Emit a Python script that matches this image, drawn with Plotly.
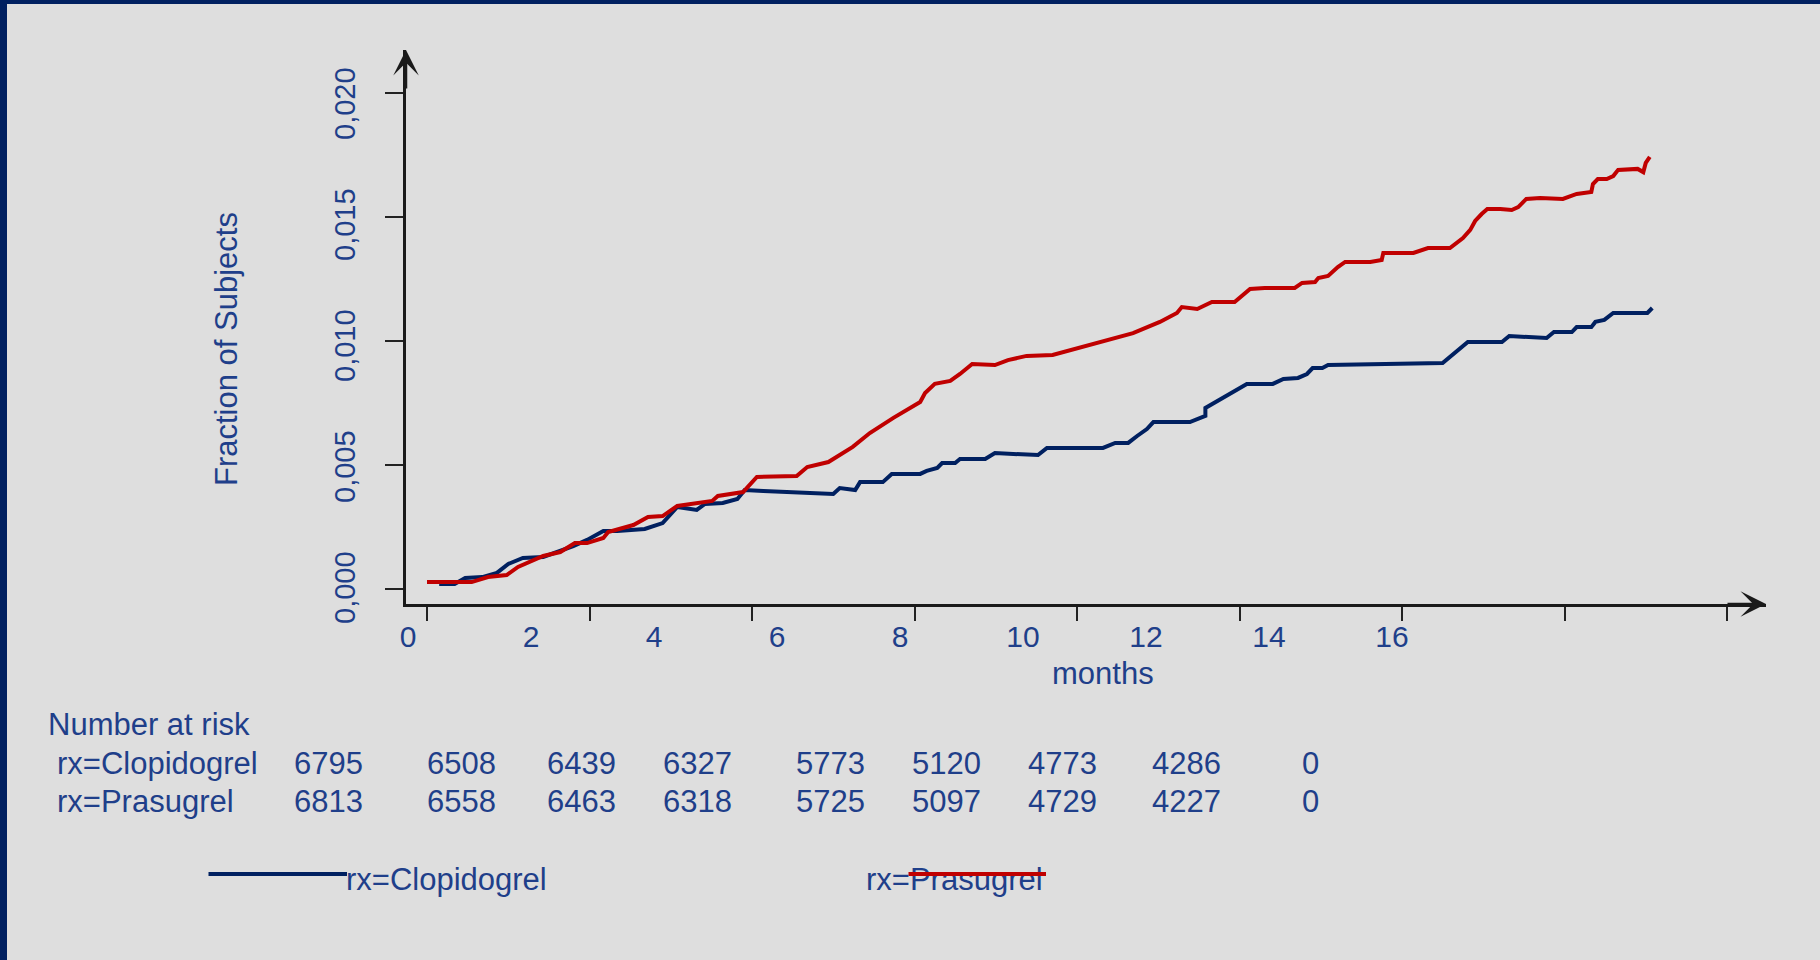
import plotly.graph_objects as go

# cumulative fraction of subjects with an event
months_prasugrel = [0.00, 0.55, 0.75, 0.98, 1.12, 1.27, 1.43, 1.64, 1.82, 1.97,
                    2.17, 2.23, 2.54, 2.72, 2.90, 3.08, 3.27, 3.51, 3.58, 3.89,
                    4.06, 4.55, 4.68, 4.94, 5.24, 5.45, 5.74, 6.07, 6.13, 6.25,
                    6.44, 6.56, 6.71, 6.99, 7.15, 7.38, 7.70, 8.69, 9.02, 9.23,
                    9.29, 9.48, 9.66, 9.94, 10.13, 10.31, 10.68, 10.77, 10.93, 10.97,
                    11.09, 11.21, 11.30, 11.61, 11.75, 11.77, 12.14, 12.32, 12.59, 12.75,
                    12.84, 12.90, 12.98, 13.05, 13.21, 13.35, 13.43, 13.53, 13.70, 13.98,
                    14.15, 14.33, 14.35, 14.41, 14.52, 14.60, 14.66, 14.90, 14.97, 15.00,
                    15.05]
frac_prasugrel = [0.00028, 0.00028, 0.00048, 0.00056, 0.00089, 0.00109, 0.00133, 0.00149, 0.00185, 0.00185,
                  0.00206, 0.00230, 0.00258, 0.00290, 0.00294, 0.00335, 0.00343, 0.00355, 0.00375, 0.00391,
                  0.00452, 0.00456, 0.00492, 0.00512, 0.00573, 0.00629, 0.00690, 0.00754, 0.00790, 0.00827,
                  0.00839, 0.00867, 0.00907, 0.00903, 0.00923, 0.00940, 0.00944, 0.01032, 0.01077, 0.01113,
                  0.01137, 0.01129, 0.01157, 0.01157, 0.01210, 0.01214, 0.01214, 0.01234, 0.01238, 0.01254,
                  0.01262, 0.01298, 0.01319, 0.01319, 0.01327, 0.01355, 0.01355, 0.01375, 0.01375, 0.01415,
                  0.01448, 0.01484, 0.01512, 0.01532, 0.01532, 0.01528, 0.01540, 0.01573, 0.01577, 0.01573,
                  0.01593, 0.01601, 0.01633, 0.01653, 0.01653, 0.01665, 0.01690, 0.01694, 0.01681, 0.01718,
                  0.01742]

months_clopidogrel = [0.15, 0.34, 0.47, 0.68, 0.86, 1.00, 1.18, 1.43, 1.80, 1.97,
                      2.17, 2.34, 2.68, 2.90, 3.08, 3.32, 3.42, 3.64, 3.82, 3.91,
                      4.14, 5.00, 5.08, 5.27, 5.33, 5.61, 5.72, 6.07, 6.15, 6.28,
                      6.34, 6.50, 6.56, 6.87, 6.99, 7.52, 7.63, 8.32, 8.47, 8.63,
                      8.74, 8.86, 8.94, 9.39, 9.58, 9.58, 10.09, 10.41, 10.54, 10.72,
                      10.83, 10.90, 11.02, 11.09, 12.50, 12.81, 13.23, 13.32, 13.78, 13.87,
                      14.09, 14.15, 14.33, 14.38, 14.49, 14.60, 15.02, 15.08]
frac_clopidogrel = [0.00020, 0.00020, 0.00044, 0.00048, 0.00065, 0.00101, 0.00125, 0.00129, 0.00173, 0.00198,
                    0.00234, 0.00234, 0.00242, 0.00266, 0.00331, 0.00319, 0.00343, 0.00347, 0.00363, 0.00399,
                    0.00395, 0.00383, 0.00407, 0.00399, 0.00431, 0.00431, 0.00464, 0.00464, 0.00476, 0.00488,
                    0.00508, 0.00508, 0.00524, 0.00524, 0.00548, 0.00540, 0.00569, 0.00569, 0.00589, 0.00589,
                    0.00617, 0.00645, 0.00673, 0.00673, 0.00698, 0.00730, 0.00827, 0.00827, 0.00847, 0.00851,
                    0.00867, 0.00891, 0.00891, 0.00903, 0.00911, 0.00996, 0.00996, 0.01020, 0.01012, 0.01036,
                    0.01036, 0.01056, 0.01056, 0.01077, 0.01085, 0.01113, 0.01113, 0.01133]

month_ticks = [0, 2, 4, 6, 8, 10, 12, 14, 16]
frac_ticks = [0, 0.005, 0.010, 0.015, 0.020]
frac_ticktext = ["0,000", "0,005", "0,010", "0,015", "0,020"]

risk_groups = ["rx=Clopidogrel", "rx=Prasugrel"]
risk_clopidogrel = [6795, 6508, 6439, 6327, 5773, 5120, 4773, 4286, 0]
risk_prasugrel = [6813, 6558, 6463, 6318, 5725, 5097, 4729, 4227, 0]

RED = "#C00000"
NAVY = "#002060"
TEXT = "#1F3F8A"
BG = "#DEDEDE"
FONT = "Liberation Sans, Arial, sans-serif"

# plot area edges in pixels
L, R, T, B = 406, 1766, 50, 604


def px(x):
    return (x - L) / (R - L)


def py(y):
    return (B - y) / (B - T)


fig = go.Figure()
fig.add_trace(go.Scatter(x=months_clopidogrel, y=frac_clopidogrel, mode="lines",
                         line=dict(color=NAVY, width=4), name="rx=Clopidogrel"))
fig.add_trace(go.Scatter(x=months_prasugrel, y=frac_prasugrel, mode="lines",
                         line=dict(color=RED, width=4), name="rx=Prasugrel"))
# carrier for the label axes
fig.add_trace(go.Scatter(x=[None], y=[None], xaxis="x2", yaxis="y2",
                         showlegend=False, hoverinfo="skip"))

fig.update_layout(
    width=1820, height=960,
    margin=dict(l=L, r=1820 - R, t=T, b=960 - B),
    paper_bgcolor=BG, plot_bgcolor=BG,
    showlegend=False,
    font=dict(family=FONT, color=TEXT),
    xaxis=dict(range=[-0.2585, 16.48], tickvals=month_ticks, ticks="outside",
               ticklen=14, tickwidth=1.5, tickcolor="#222222", showticklabels=False,
               showline=True, linecolor="#1a1a1a", linewidth=3,
               showgrid=False, zeroline=False),
    yaxis=dict(range=[-0.000605, 0.021734], tickvals=frac_ticks, ticks="outside",
               ticklen=18, tickwidth=1.5, tickcolor="#222222", showticklabels=False,
               showline=True, linecolor="#1a1a1a", linewidth=3,
               showgrid=False, zeroline=False),
    xaxis2=dict(overlaying="x", anchor="y", side="bottom", range=[-0.0325, 22.081],
                tickvals=month_ticks, ticktext=[str(m) for m in month_ticks],
                ticks="", showline=False, showgrid=False, zeroline=False,
                tickfont=dict(size=30, color=TEXT), ticklabelstandoff=12),
    yaxis2=dict(overlaying="y", anchor="x", side="left", range=[-0.000496, 0.022397],
                tickvals=frac_ticks, ticktext=frac_ticktext, tickangle=-90,
                ticks="", showline=False, showgrid=False, zeroline=False,
                tickfont=dict(size=29, color=TEXT), ticklabelstandoff=44),
)

ann = []
# axis arrowheads
ann.append(dict(xref="paper", yref="paper", x=px(L), y=py(T), ax=0, ay=40, text="",
                showarrow=True, arrowhead=3, arrowsize=1.7, arrowwidth=2.5, arrowcolor="#1a1a1a"))
ann.append(dict(xref="paper", yref="paper", x=px(R), y=py(B), ax=-40, ay=0, text="",
                showarrow=True, arrowhead=3, arrowsize=1.7, arrowwidth=2.5, arrowcolor="#1a1a1a"))
# axis titles
ann.append(dict(xref="paper", yref="paper", x=px(226), y=py(349), text="Fraction of Subjects",
                textangle=-90, showarrow=False, font=dict(size=31, color=TEXT),
                xanchor="center", yanchor="middle"))
ann.append(dict(xref="paper", yref="paper", x=px(1103), y=py(673), text="months",
                showarrow=False, font=dict(size=31, color=TEXT),
                xanchor="center", yanchor="middle"))

# number at risk table
col_x = [328, 461, 581, 697, 830, 946, 1062, 1186, 1310]
row_y = [763, 801]
ann.append(dict(xref="paper", yref="paper", x=px(46), y=py(724), text="Number at risk",
                showarrow=False, font=dict(size=31, color=TEXT), xanchor="left", yanchor="middle"))
for grp, counts, yy in zip(risk_groups, [risk_clopidogrel, risk_prasugrel], row_y):
    ann.append(dict(xref="paper", yref="paper", x=px(55), y=py(yy), text=grp,
                    showarrow=False, font=dict(size=31, color=TEXT), xanchor="left", yanchor="middle"))
    for n, xx in zip(counts, col_x):
        ann.append(dict(xref="paper", yref="paper", x=px(xx), y=py(yy), text=str(n),
                        showarrow=False, font=dict(size=31, color=TEXT),
                        xanchor="center", yanchor="middle"))

# legend, drawn like the original slide
ann.append(dict(xref="paper", yref="paper", x=px(344), y=py(879), text="rx=Clopidogrel",
                showarrow=False, font=dict(size=31, color=TEXT), xanchor="left", yanchor="middle"))
ann.append(dict(xref="paper", yref="paper", x=px(347), y=py(874), ax=-140, ay=0, text="",
                showarrow=True, arrowhead=0, arrowwidth=4, arrowcolor=NAVY))
ann.append(dict(xref="paper", yref="paper", x=px(864), y=py(879), text="rx=Prasugrel",
                showarrow=False, font=dict(size=31, color=TEXT), xanchor="left", yanchor="middle"))
ann.append(dict(xref="paper", yref="paper", x=px(1046), y=py(874), ax=-139, ay=0, text="",
                showarrow=True, arrowhead=0, arrowwidth=4, arrowcolor=RED))
fig.update_layout(annotations=ann)

# slide frame strips on the top and left
fig.add_shape(type="rect", xref="paper", yref="paper", x0=px(0), x1=px(7), y0=py(960), y1=py(0),
              fillcolor=NAVY, line=dict(width=0), layer="above")
fig.add_shape(type="rect", xref="paper", yref="paper", x0=px(0), x1=px(1820), y0=py(4), y1=py(0),
              fillcolor=NAVY, line=dict(width=0), layer="above")

fig.write_html("out.html", config={"displayModeBar": False},
               post_script="document.body.style.margin='0';document.body.style.overflow='hidden';")
